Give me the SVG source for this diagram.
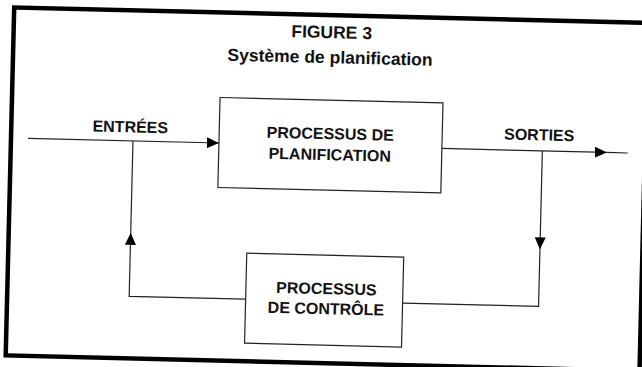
<svg xmlns="http://www.w3.org/2000/svg" width="642" height="367" viewBox="0 0 642 367">
  <defs>
    <marker id="arr" viewBox="0 0 12 11" refX="12" refY="5.5" markerWidth="12" markerHeight="11" markerUnits="userSpaceOnUse" orient="auto">
      <path d="M0,0 L12,5.5 L0,11 Z" fill="#000"/>
    </marker>
    <style>
      .t { font-family: "Liberation Sans", Arial, sans-serif; font-weight: bold; fill: #111; text-anchor: middle; }
      .lbl { font-size: 16px; }
      .ttl { font-size: 17.5px; }
      .box { fill: #fff; stroke: #222; stroke-width: 1.2; }
      .ln { fill: none; stroke: #222; stroke-width: 1.2; }
    </style>
  </defs>
  <rect width="642" height="367" fill="#fff"/>
  <g transform="rotate(1.4 321 183)">
    <g id="frame">
      <path d="M644,15 L10,15 L10,363 L644,363 Z" fill="none" stroke="#000" stroke-width="4.5"/>
    </g>
    <g id="title">
      <text class="t ttl" x="328" y="38">FIGURE 3</text>
      <text class="t ttl" x="327" y="63">Système de planification</text>
    </g>
    <g id="connectors">
      <path class="ln" d="M27,145.5 L218,145.5" marker-end="url(#arr)"/>
      <path class="ln" d="M441,145.5 L606,145.5" marker-end="url(#arr)"/>
      <path class="ln" d="M606,145.5 L627,145.5"/>
      <path class="ln" d="M541.5,145.5 L541.5,244" marker-end="url(#arr)"/>
      <path class="ln" d="M541.5,244 L541.5,301 L405.5,301"/>
      <path class="ln" d="M248.5,301 L132,301 L132,237.5" marker-end="url(#arr)"/>
      <path class="ln" d="M132,237.5 L132,145.5"/>
      <text class="t lbl" x="129" y="137">ENTRÉES</text>
      <text class="t lbl" x="538" y="135">SORTIES</text>
    </g>
    <g id="planification">
      <rect class="box" x="218" y="100" width="223" height="90"/>
      <text class="t lbl" x="329" y="139">PROCESSUS DE</text>
      <text class="t lbl" x="329" y="160">PLANIFICATION</text>
    </g>
    <g id="controle">
      <rect class="box" x="248.5" y="255" width="157" height="90"/>
      <text class="t lbl" x="329" y="294">PROCESSUS</text>
      <text class="t lbl" x="329" y="314">DE CONTRÔLE</text>
    </g>
  </g>
</svg>
